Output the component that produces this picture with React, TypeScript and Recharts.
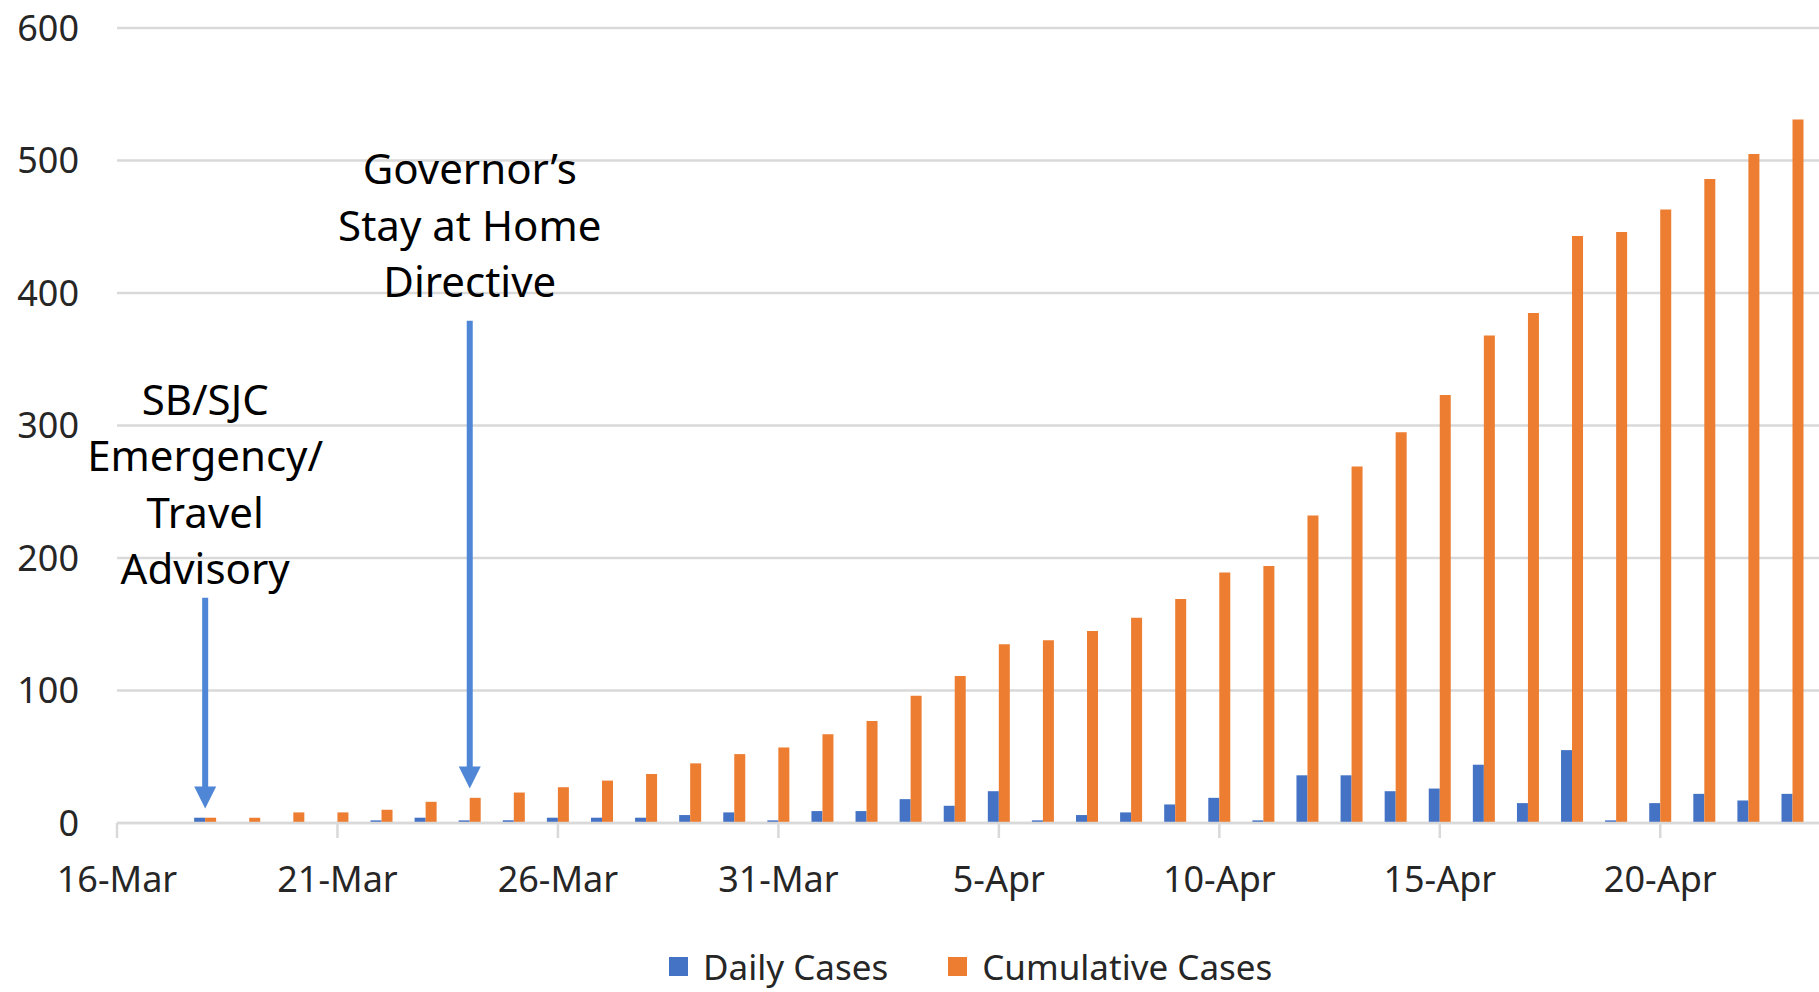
import React from 'react';
import { ComposedChart, Bar, XAxis, YAxis, CartesianGrid, ReferenceLine } from 'recharts';

const dates = [
  '16-Mar', '17-Mar', '18-Mar', '19-Mar', '20-Mar', '21-Mar', '22-Mar', '23-Mar', '24-Mar', '25-Mar',
  '26-Mar', '27-Mar', '28-Mar', '29-Mar', '30-Mar', '31-Mar', '1-Apr', '2-Apr', '3-Apr', '4-Apr',
  '5-Apr', '6-Apr', '7-Apr', '8-Apr', '9-Apr', '10-Apr', '11-Apr', '12-Apr', '13-Apr', '14-Apr',
  '15-Apr', '16-Apr', '17-Apr', '18-Apr', '19-Apr', '20-Apr', '21-Apr', '22-Apr', '23-Apr',
];

const dailyCases = [
  0, 0, 4, 0, 0, 0, 2, 4, 2, 2,
  4, 4, 4, 6, 8, 2, 9, 9, 18, 13,
  24, 2, 6, 8, 14, 19, 2, 36, 36, 24,
  26, 44, 15, 55, 2, 15, 22, 17, 22,
];

const cumulativeCases = [
  0, 0, 4, 4, 8, 8, 10, 16, 19, 23,
  27, 32, 37, 45, 52, 57, 67, 77, 96, 111,
  135, 138, 145, 155, 169, 189, 194, 232, 269, 295,
  323, 368, 385, 443, 446, 463, 486, 505, 531,
];

const yTicks = [0, 100, 200, 300, 400, 500, 600];
const xTickDates = ['16-Mar', '21-Mar', '26-Mar', '31-Mar', '5-Apr', '10-Apr', '15-Apr', '20-Apr'];

// arrows: text lines above, arrow from "top" down to "tip" (value units)
const annotations = [
  { date: '18-Mar', lines: ['SB/SJC', 'Emergency/', 'Travel', 'Advisory'], top: 170, tip: 11, gap: 30 },
  { date: '24-Mar', lines: ['Governor\u2019s', 'Stay at Home', 'Directive'], top: 379, tip: 26, gap: 40 },
];

const legendItems = [
  { name: 'Daily Cases', color: '#4472C4' },
  { name: 'Cumulative Cases', color: '#ED7D31' },
];

const data = dates.map((d, i) => ({ day: i, date: d, daily: dailyCases[i], cumulative: cumulativeCases[i] }));

const FONT = '"Noto Sans", "Open Sans", sans-serif';
const arrowColor = '#4F86D6';

const makeArrow = (lines: string[], gap: number) => (props: any) => {
  const { x1, y1, x2, y2 } = props;
  const head = 22;
  const hw = 11;
  const lineH = 56.5;
  return (
    <g>
      <line x1={x1} y1={y1} x2={x2} y2={y2 - head + 1} stroke={arrowColor} strokeWidth={6} />
      <polygon points={`${x2 - hw},${y2 - head} ${x2 + hw},${y2 - head} ${x2},${y2}`} fill={arrowColor} />
      {lines.map((t, i) => (
        <text
          key={t}
          x={x1}
          y={y1 - gap - (lines.length - 1 - i) * lineH}
          textAnchor="middle"
          dominantBaseline="central"
          fontFamily={FONT}
          fontSize={42}
          fill="#000"
        >
          {t}
        </text>
      ))}
    </g>
  );
};

const App = () => {
  return (
    <div style={{ position: 'absolute', left: 0, top: 0, width: 1819, height: 992, background: '#fff', fontFamily: FONT }}>
      <ComposedChart
        width={1819}
        height={920}
        data={data}
        barGap={0}
        margin={{ top: 28, right: 0, bottom: 0, left: 0 }}
      >
        <CartesianGrid vertical={false} stroke="#d9d9d9" strokeWidth={2.5} />
        <XAxis
          dataKey="day"
          type="number"
          domain={[0, 38.6]}
          allowDataOverflow
          ticks={xTickDates.map((d) => dates.indexOf(d))}
          interval={0}
          tickFormatter={(v: number) => dates[v]}
          height={97}
          stroke="#d9d9d9"
          strokeWidth={2.5}
          tickSize={15}
          tickMargin={28}
          tick={{ fill: '#262626', fontSize: 36, fontFamily: FONT }}
        />
        <YAxis
          type="number"
          domain={[0, 600]}
          ticks={yTicks}
          width={117}
          axisLine={false}
          tickLine={false}
          tickMargin={32}
          tick={{ fill: '#262626', fontSize: 36, fontFamily: FONT }}
        />
        <Bar dataKey="daily" name="Daily Cases" fill="#4472C4" barSize={11} isAnimationActive={false} />
        <Bar dataKey="cumulative" name="Cumulative Cases" fill="#ED7D31" barSize={11} isAnimationActive={false} />
        {annotations.map((a) => {
          const x = dates.indexOf(a.date);
          return (
            <ReferenceLine
              key={a.date}
              segment={[{ x, y: a.top }, { x, y: a.tip }]}
              shape={makeArrow(a.lines, a.gap)}
            />
          );
        })}
      </ComposedChart>
      <div
        style={{
          position: 'absolute',
          left: 669,
          top: 943,
          height: 46,
          display: 'flex',
          alignItems: 'center',
          fontSize: 35,
          lineHeight: 1,
          color: '#262626',
          whiteSpace: 'nowrap',
        }}
      >
        {legendItems.map((it, i) => (
          <div key={it.name} style={{ display: 'flex', alignItems: 'center', marginLeft: i === 0 ? 0 : 60 }}>
            <span style={{ width: 19, height: 19, background: it.color, marginRight: 15, display: 'inline-block' }} />
            <span style={{ lineHeight: 1 }}>{it.name}</span>
          </div>
        ))}
      </div>
    </div>
  );
};

export default App;
